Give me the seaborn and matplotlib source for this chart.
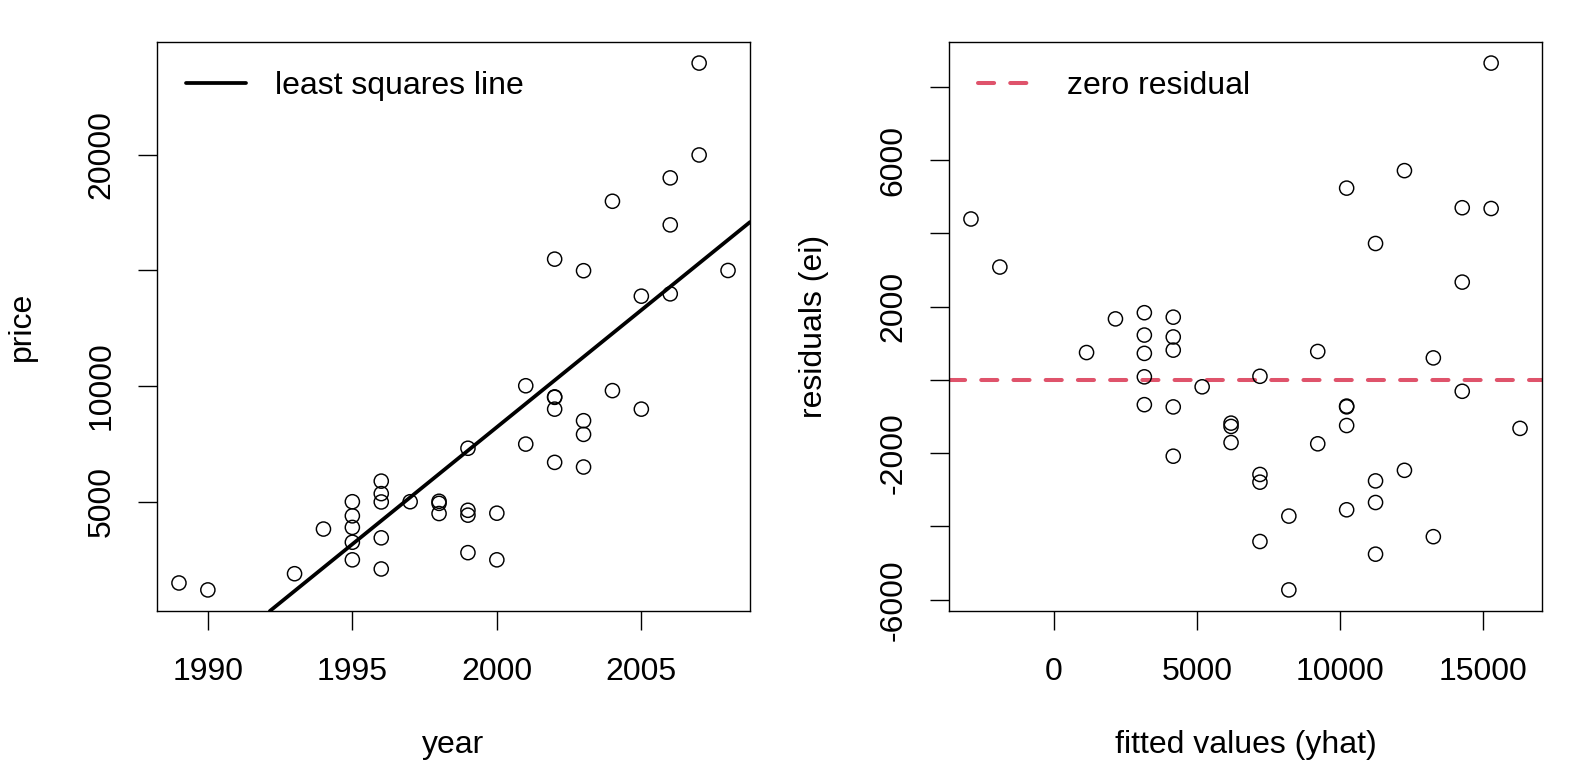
import numpy as np
import pandas as pd
import matplotlib
matplotlib.use("Agg")
import matplotlib.pyplot as plt
import seaborn as sns

# car age vs price
year = [1989, 1990, 1993, 1994,
        1995, 1995, 1995, 1995, 1995,
        1996, 1996, 1996, 1996, 1996,
        1997,
        1998, 1998, 1998,
        1999, 1999, 1999, 1999,
        2000, 2000,
        2001, 2001,
        2002, 2002, 2002, 2002, 2002,
        2003, 2003, 2003, 2003,
        2004, 2004,
        2005, 2005,
        2006, 2006, 2006,
        2007, 2007,
        2008]
price = [1490, 1190, 1890, 3820,
         5000, 4390, 3890, 3250, 2490,
         5890, 5350, 4990, 3440, 2095,
         5000,
         5020, 4930, 4490,
         7310, 4630, 4420, 2800,
         4505, 2490,
         10010, 7490,
         15480, 9530, 9510, 9000, 6700,
         14980, 8500, 7910, 6500,
         17980, 9800,
         13880, 9000,
         18990, 16960, 13980,
         23950, 19980,
         14990]

left_xticks = [1990, 1995, 2000, 2005]
left_yticks = [5000, 10000, 15000, 20000]
left_ylabels = ["5000", "10000", "", "20000"]
right_xticks = [0, 5000, 10000, 15000]
right_yticks = [-6000, -4000, -2000, 0, 2000, 4000, 6000, 8000]
right_ylabels = ["-6000", "", "-2000", "", "2000", "", "6000", ""]

df = pd.DataFrame({"year": year, "price": price})
slope, icept = np.polyfit(df["year"], df["price"], 1)
df["yhat"] = icept + slope * df["year"]
df["ei"] = df["price"] - df["yhat"]

FS = 23

sns.set_style("white", {"axes.edgecolor": "black", "xtick.color": "black",
                        "ytick.color": "black", "text.color": "black",
                        "axes.labelcolor": "black"})
plt.rcParams["font.family"] = ["Liberation Sans", "DejaVu Sans"]
plt.rcParams["font.size"] = FS
plt.rcParams["axes.linewidth"] = 1.0


def r_range(v):
    lo, hi = min(v), max(v)
    span = hi - lo
    return lo - 0.04 * span, hi + 0.04 * span


def style_axes(ax, xticks, yticks, ylabels, xlab, ylab):
    ax.set_xticks(xticks)
    ax.set_xticklabels([str(t) for t in xticks])
    ax.set_yticks(yticks)
    ax.set_yticklabels(ylabels, rotation=90, va="center")
    ax.tick_params(axis="both", direction="out", length=14, width=1.0,
                   labelsize=FS, bottom=True, left=True)
    ax.tick_params(axis="x", pad=19)
    ax.tick_params(axis="y", pad=15)
    for sp in ax.spines.values():
        sp.set_visible(True)
        sp.set_linewidth(1.0)
        sp.set_color("black")
    ax.set_xlabel(xlab, fontsize=FS)
    ax.set_ylabel(ylab, fontsize=FS)
    ax.xaxis.set_label_coords(0.5, -0.2355)
    ax.xaxis.label.set_va("center")
    ax.yaxis.set_label_coords(-0.228, 0.5)
    ax.yaxis.label.set_va("center")
    ax.yaxis.label.set_ha("center")


fig = plt.figure(figsize=(15.84, 7.68), dpi=100)
ax1 = fig.add_axes([157 / 1584, 157 / 768, 593 / 1584, 569 / 768])
ax2 = fig.add_axes([949 / 1584, 157 / 768, 593 / 1584, 569 / 768])

# left: price vs year with the least squares line
sns.scatterplot(data=df, x="year", y="price", ax=ax1, s=104, marker="o",
                facecolor="none", edgecolor="black", linewidth=1.05, zorder=3)
ax1.set_xlim(*r_range(year))
ax1.set_ylim(*r_range(price))
ax1.axline((df["year"].mean(), df["price"].mean()), slope=slope,
           color="black", lw=2.7, label="least squares line")
style_axes(ax1, left_xticks, left_yticks, left_ylabels, "year", "price")
ax1.legend(loc="upper left", frameon=False, fontsize=FS,
           handlelength=1.9, handletextpad=0.88)

# right: residuals vs fitted values
sns.scatterplot(data=df, x="yhat", y="ei", ax=ax2, s=104, marker="o",
                facecolor="none", edgecolor="black", linewidth=1.05, zorder=3)
ax2.set_xlim(*r_range(df["yhat"]))
ax2.set_ylim(*r_range(df["ei"]))
ax2.axhline(0, color="#DF536B", lw=2.9, ls=(0, (4, 4)),
            dash_capstyle="round", label="zero residual")
style_axes(ax2, right_xticks, right_yticks, right_ylabels,
           "fitted values (yhat)", "residuals (ei)")
ax2.legend(loc="upper left", frameon=False, fontsize=FS,
           handlelength=1.9, handletextpad=0.88)

fig.savefig("out.png", dpi=100)
